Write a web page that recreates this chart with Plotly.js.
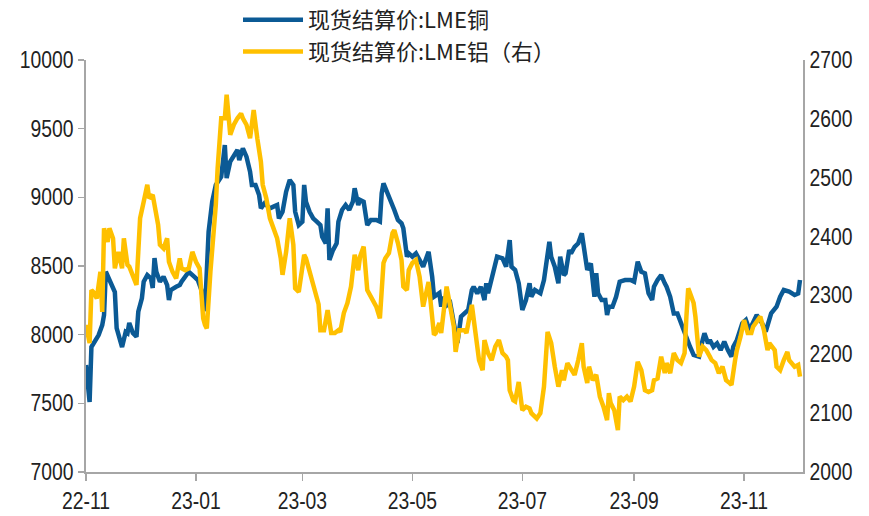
<!DOCTYPE html>
<html>
<head>
<meta charset="utf-8">
<script src="https://cdn.plot.ly/plotly-3.0.1.min.js"></script>
<style>
html,body{margin:0;padding:0;background:#fff;}
#chart{width:869px;height:516px;}
</style>
</head>
<body>
<div id="chart"></div>
<script>
// 现货结算价:LME铜 (left axis)
const copperDates = [
'2022-11-01','2022-11-03','2022-11-04','2022-11-06','2022-11-08','2022-11-10','2022-11-11','2022-11-12','2022-11-15','2022-11-17',
'2022-11-18','2022-11-21','2022-11-23','2022-11-24','2022-11-25','2022-11-27','2022-11-29','2022-11-30','2022-12-02','2022-12-03',
'2022-12-05','2022-12-07','2022-12-08','2022-12-09','2022-12-10','2022-12-12','2022-12-14','2022-12-16','2022-12-17','2022-12-18',
'2022-12-21','2022-12-23','2022-12-24','2022-12-26','2022-12-28','2022-12-31','2023-01-02','2023-01-04','2023-01-06','2023-01-08',
'2023-01-10','2023-01-12','2023-01-15','2023-01-17','2023-01-18','2023-01-20','2023-01-22','2023-01-24','2023-01-25','2023-01-27',
'2023-01-29','2023-01-31','2023-02-01','2023-02-03','2023-02-05','2023-02-06','2023-02-08','2023-02-11','2023-02-13','2023-02-15',
'2023-02-16','2023-02-18','2023-02-20','2023-02-22','2023-02-24','2023-02-25','2023-02-27','2023-03-01','2023-03-02','2023-03-03',
'2023-03-05','2023-03-07','2023-03-09','2023-03-11','2023-03-12','2023-03-14','2023-03-15','2023-03-16','2023-03-18','2023-03-20',
'2023-03-21','2023-03-23','2023-03-25','2023-03-27','2023-03-29','2023-03-30','2023-04-01','2023-04-02','2023-04-04','2023-04-06',
'2023-04-08','2023-04-11','2023-04-13','2023-04-14','2023-04-15','2023-04-17','2023-04-19','2023-04-21','2023-04-23','2023-04-25',
'2023-04-26','2023-04-28','2023-04-29','2023-05-01','2023-05-03','2023-05-05','2023-05-07','2023-05-09','2023-05-10','2023-05-12',
'2023-05-13','2023-05-16','2023-05-17','2023-05-18','2023-05-19','2023-05-22','2023-05-25','2023-05-26','2023-05-28','2023-05-30',
'2023-06-01','2023-06-03','2023-06-04','2023-06-06','2023-06-08','2023-06-10','2023-06-11','2023-06-12','2023-06-14','2023-06-17',
'2023-06-20','2023-06-22','2023-06-24','2023-06-25','2023-06-27','2023-06-29','2023-07-01','2023-07-03','2023-07-05','2023-07-06',
'2023-07-08','2023-07-11','2023-07-13','2023-07-15','2023-07-16','2023-07-17','2023-07-19','2023-07-21','2023-07-22','2023-07-24',
'2023-07-25','2023-07-27','2023-07-28','2023-07-30','2023-08-01','2023-08-03','2023-08-05','2023-08-06','2023-08-08','2023-08-10',
'2023-08-11','2023-08-12','2023-08-14','2023-08-16','2023-08-17','2023-08-18','2023-08-20','2023-08-22','2023-08-24','2023-08-27',
'2023-08-30','2023-09-01','2023-09-03','2023-09-05','2023-09-07','2023-09-09','2023-09-11','2023-09-12','2023-09-14','2023-09-16',
'2023-09-18','2023-09-19','2023-09-21','2023-09-23','2023-09-25','2023-09-27','2023-09-29','2023-09-30','2023-10-02','2023-10-04',
'2023-10-07','2023-10-09','2023-10-10','2023-10-12','2023-10-13','2023-10-15','2023-10-17','2023-10-19','2023-10-21','2023-10-23',
'2023-10-25','2023-10-26','2023-10-28','2023-10-31','2023-11-02','2023-11-04','2023-11-06','2023-11-08','2023-11-11','2023-11-13',
'2023-11-16','2023-11-19','2023-11-21','2023-11-23','2023-11-26','2023-11-29','2023-12-01','2023-12-02'
];
const copperValues = [
7779,7510,7910,7949,7997,8070,8143,8458,8361,8311,
8048,7910,8019,8010,8085,8012,7985,8167,8265,8386,
8434,8410,8340,8558,8458,8386,8422,8361,8252,8325,
8349,8361,8386,8422,8458,8422,8398,8325,8172,8750,
8968,9090,9150,9381,9140,9260,9308,9345,9272,9357,
9296,9187,9090,9090,9017,8920,8956,8920,8932,8944,
8847,8895,9041,9126,9090,8895,8798,8823,9090,8968,
8895,8847,8823,8798,8713,8665,8920,8544,8616,8665,
8823,8908,8944,8908,8968,9066,8944,8981,8968,8798,
8835,8835,8823,9029,9102,9041,8981,8908,8835,8811,
8774,8568,8592,8568,8592,8544,8495,8568,8604,8422,
8276,8303,8204,8276,8204,8230,8034,7939,8131,8157,
8180,8325,8349,8301,8349,8252,8374,8301,8422,8568,
8556,8495,8689,8495,8471,8374,8180,8252,8374,8276,
8325,8301,8398,8616,8677,8568,8495,8374,8568,8434,
8447,8616,8592,8640,8665,8738,8519,8471,8519,8276,
8447,8301,8252,8252,8143,8204,8204,8276,8386,8398,
8398,8386,8531,8458,8447,8301,8252,8349,8398,8434,
8374,8349,8276,8155,8155,8083,8010,7961,7912,7852,
7840,7961,8010,7937,7961,7912,7937,7888,7949,7888,
7840,7912,7961,8083,8107,8034,8095,8143,8083,8022,
8155,8204,8276,8325,8313,8289,8300,8398
];

// 现货结算价:LME铝 (right axis)
const aluDates = [
'2022-11-01','2022-11-03','2022-11-04','2022-11-05','2022-11-07','2022-11-08','2022-11-09','2022-11-10','2022-11-11','2022-11-13',
'2022-11-14','2022-11-16','2022-11-17','2022-11-19','2022-11-21','2022-11-22','2022-11-24','2022-11-25','2022-11-27','2022-11-29',
'2022-11-30','2022-12-01','2022-12-03','2022-12-05','2022-12-06','2022-12-08','2022-12-09','2022-12-11','2022-12-12','2022-12-14',
'2022-12-16','2022-12-17','2022-12-19','2022-12-21','2022-12-23','2022-12-24','2022-12-26','2022-12-28','2022-12-30','2023-01-01',
'2023-01-03','2023-01-05','2023-01-06','2023-01-07','2023-01-09','2023-01-12','2023-01-13','2023-01-15','2023-01-17','2023-01-18',
'2023-01-20','2023-01-22','2023-01-24','2023-01-26','2023-01-27','2023-01-29','2023-01-31','2023-02-02','2023-02-04','2023-02-06',
'2023-02-07','2023-02-09','2023-02-11','2023-02-13','2023-02-15','2023-02-17','2023-02-18','2023-02-20','2023-02-22','2023-02-24',
'2023-02-25','2023-02-27','2023-03-02','2023-03-03','2023-03-05','2023-03-07','2023-03-09','2023-03-10','2023-03-11','2023-03-13',
'2023-03-15','2023-03-17','2023-03-19','2023-03-21','2023-03-22','2023-03-24','2023-03-26','2023-03-28','2023-03-30','2023-04-01',
'2023-04-02','2023-04-04','2023-04-06','2023-04-08','2023-04-11','2023-04-13','2023-04-15','2023-04-16','2023-04-18','2023-04-20',
'2023-04-21','2023-04-23','2023-04-25','2023-04-26','2023-04-28','2023-04-29','2023-05-01','2023-05-03','2023-05-05','2023-05-07',
'2023-05-09','2023-05-10','2023-05-13','2023-05-14','2023-05-16','2023-05-17','2023-05-20','2023-05-22','2023-05-24','2023-05-25',
'2023-05-27','2023-05-30','2023-05-31','2023-06-03','2023-06-05','2023-06-07','2023-06-09','2023-06-10','2023-06-12','2023-06-14',
'2023-06-16','2023-06-18','2023-06-20','2023-06-22','2023-06-23','2023-06-24','2023-06-26','2023-06-27','2023-06-29','2023-07-01',
'2023-07-03','2023-07-05','2023-07-06','2023-07-09','2023-07-11','2023-07-13','2023-07-15','2023-07-17','2023-07-19','2023-07-21',
'2023-07-23','2023-07-24','2023-07-26','2023-07-28','2023-07-30','2023-08-01','2023-08-03','2023-08-04','2023-08-06','2023-08-07',
'2023-08-09','2023-08-11','2023-08-13','2023-08-15','2023-08-17','2023-08-18','2023-08-19','2023-08-21','2023-08-23','2023-08-24',
'2023-08-26','2023-08-28','2023-08-30','2023-09-01','2023-09-03','2023-09-05','2023-09-07','2023-09-09','2023-09-11','2023-09-12',
'2023-09-14','2023-09-16','2023-09-18','2023-09-19','2023-09-21','2023-09-23','2023-09-25','2023-09-27','2023-09-29','2023-09-30',
'2023-10-01','2023-10-02','2023-10-04','2023-10-05','2023-10-06','2023-10-07','2023-10-09','2023-10-11','2023-10-13','2023-10-14',
'2023-10-16','2023-10-18','2023-10-20','2023-10-22','2023-10-24','2023-10-25','2023-10-27','2023-10-28','2023-10-30','2023-11-01',
'2023-11-03','2023-11-05','2023-11-06','2023-11-08','2023-11-10','2023-11-12','2023-11-14','2023-11-15','2023-11-18','2023-11-19',
'2023-11-21','2023-11-23','2023-11-25','2023-11-26','2023-11-29','2023-12-01','2023-12-02'
];
const aluValues = [
2250,2219,2309,2306,2295,2323,2340,2272,2414,2391,
2414,2397,2346,2374,2346,2397,2352,2349,2332,2318,
2374,2431,2459,2488,2465,2471,2454,2420,2386,2380,
2397,2357,2340,2329,2363,2346,2343,2346,2374,2357,
2346,2261,2250,2244,2340,2454,2516,2601,2601,2641,
2573,2590,2601,2609,2601,2590,2567,2615,2567,2527,
2488,2465,2431,2414,2397,2363,2335,2374,2431,2386,
2312,2306,2369,2363,2340,2318,2295,2285,2241,2241,
2275,2236,2236,2241,2238,2270,2287,2315,2369,2343,
2366,2383,2309,2298,2281,2261,2355,2363,2372,2406,
2411,2389,2360,2315,2309,2343,2355,2360,2332,2281,
2309,2323,2233,2236,2253,2236,2315,2281,2247,2204,
2241,2241,2236,2284,2236,2190,2173,2224,2202,2190,
2213,2224,2202,2196,2190,2139,2122,2120,2153,2105,
2111,2108,2100,2091,2100,2145,2238,2219,2179,2145,
2173,2156,2185,2173,2165,2190,2219,2179,2151,2179,
2156,2165,2128,2111,2088,2134,2117,2105,2071,2128,
2122,2128,2120,2145,2187,2173,2139,2136,2139,2156,
2159,2196,2168,2185,2168,2202,2190,2185,2202,2264,
2312,2304,2287,2264,2219,2196,2213,2207,2196,2190,
2185,2168,2179,2156,2151,2148,2190,2207,2230,2258,
2236,2236,2247,2255,2264,2241,2207,2219,2207,2179,
2173,2190,2204,2190,2179,2182,2162
];

const seriesNames = ['现货结算价:LME铜', '现货结算价:LME铝（右）'];
const leftTicks = [7000, 7500, 8000, 8500, 9000, 9500, 10000];
const rightTicks = [2000, 2100, 2200, 2300, 2400, 2500, 2600, 2700];

const tickFont = {family: '"Liberation Sans", Arial, sans-serif', size: 23, color: '#222'};
const axisGray = '#a6a6a6';

const traces = [
  {x: copperDates, y: copperValues, name: seriesNames[0], type: 'scatter', mode: 'lines',
   line: {color: '#0b5a95', width: 4.5}, yaxis: 'y'},
  {x: aluDates, y: aluValues, name: seriesNames[1], type: 'scatter', mode: 'lines',
   line: {color: '#ffc000', width: 4.5}, yaxis: 'y2'}
];

const layout = {
  width: 869, height: 516,
  margin: {l: 86, r: 66, t: 60, b: 44, autoexpand: false},
  paper_bgcolor: '#fff', plot_bgcolor: '#fff',
  showlegend: true,
  legend: {
    x: 0.212, y: 1.148, xanchor: 'left', yanchor: 'top',
    orientation: 'v', bgcolor: 'rgba(0,0,0,0)',
    font: {family: '"Noto Sans CJK SC", sans-serif', size: 22, color: '#222'},
    itemwidth: 60, tracegroupgap: 0
  },
  xaxis: {
    type: 'date',
    range: ['2022-11-01', '2023-12-03 16:00'],
    tick0: '2022-11-01', dtick: 'M2', tickformat: '%y-%m',
    ticks: 'outside', ticklen: 7, tickwidth: 1.5, tickcolor: axisGray,
    showline: true, linecolor: axisGray, linewidth: 2,
    showgrid: false, zeroline: false,
    tickfont: tickFont
  },
  yaxis: {
    range: [7000, 10000], tickvals: leftTicks, tickformat: 'd',
    ticks: 'outside', ticklen: 6, tickwidth: 1.5, tickcolor: axisGray,
    showline: true, linecolor: axisGray, linewidth: 2,
    showgrid: false, zeroline: false,
    tickfont: tickFont
  },
  yaxis2: {
    range: [2000, 2700], tickvals: rightTicks, tickformat: 'd',
    overlaying: 'y', side: 'right',
    ticks: '', showline: true, linecolor: axisGray, linewidth: 2,
    showgrid: false, zeroline: false,
    tickfont: tickFont
  }
};

// Narrow the tick labels horizontally (the reference uses a condensed face)
function condenseTicks(gd) {
  const sel = gd.querySelectorAll('.xtick text, .ytick text, .y2tick text');
  sel.forEach(t => {
    try {
      const w = t.getComputedTextLength();
      t.setAttribute('textLength', (w * 0.84).toFixed(1));
      t.setAttribute('lengthAdjust', 'spacingAndGlyphs');
    } catch (e) {}
  });
}

Plotly.newPlot('chart', traces, layout, {displayModeBar: false, staticPlot: true})
  .then(gd => condenseTicks(gd));
</script>
</body>
</html>
